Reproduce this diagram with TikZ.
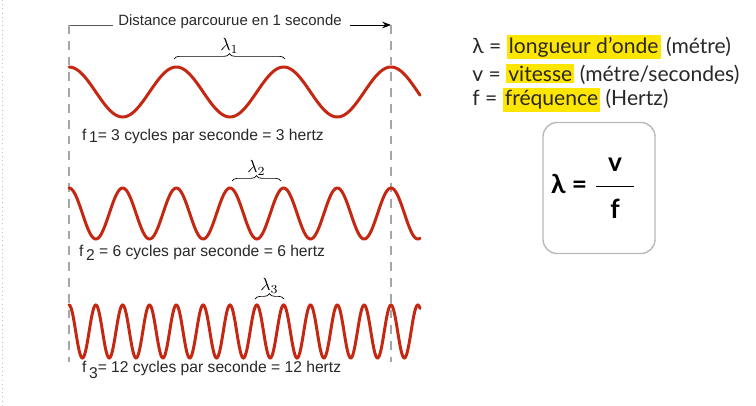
\documentclass[tikz,border=0pt]{standalone}
\usepackage{fontspec}
\setmainfont{Liberation Sans}
\newfontfamily\latofont{Lato}
\usepackage{amsmath}
\usetikzlibrary{arrows.meta,positioning,decorations.pathreplacing}
\definecolor{ondered}{RGB}{196,40,18}
\definecolor{surlignage}{RGB}{255,230,0}
\definecolor{textegris}{RGB}{40,40,40}
\newcommand{\surligne}[1]{{\setlength{\fboxsep}{1.2pt}\colorbox{surlignage}{#1}}}

\begin{document}
\begin{tikzpicture}[x=0.02cm, y=-0.02cm,
      onde/.style={ondered, line width=1.7pt, line cap=round, smooth},
      pointille/.style={gray!70, line width=0.7pt, dash pattern=on 5pt off 4pt},
      accolade/.style={decorate, decoration={brace, amplitude=3pt}, thin},
      etiquette/.style={font=\fontsize{8.9}{10}\selectfont, text=textegris, inner sep=1pt},
      legende/.style={anchor=west, font=\latofont\fontsize{12}{14}\selectfont, text=textegris, inner sep=0pt}
    ]
      \useasboundingbox (0,0) rectangle (756,405);
      \draw[gray!50, dotted] (2,0) -- (2,405);
      % distance parcourue
      \coordinate (haut-g) at (69,25);
      \coordinate (haut-d) at (391,25);
      \coordinate (bas-g) at (69,362);
      \coordinate (bas-d) at (391,362);
      \node[etiquette, font=\fontsize{8.5}{9}\selectfont] (distance) at (230,22) {Distance parcourue en 1 seconde};
      \draw[gray!70!black, thin] (haut-g) -- (113,25);
      \draw[-{Stealth[length=5pt]}, thin] (350,25) -- (haut-d);
      \draw[pointille] (haut-g) -- (bas-g);
      \draw[pointille] (haut-d) -- (bas-d);
      % les trois ondes
      \draw[onde] plot[domain=69:420, samples=200] (\x, {92 - 25*cos(3.3541*(\x-69))});
      \draw[onde] plot[domain=69:420, samples=300] (\x, {213.5 - 25.5*cos(6.7079*(\x-69))});
      \draw[onde] plot[domain=69:420, samples=500] (\x, {331.5 - 26.5*cos(13.4178*(\x-69))});
      % longueurs d'onde
      \coordinate (l1a) at (174,59); \coordinate (l1b) at (285,59);
      \coordinate (l2a) at (232,181); \coordinate (l2b) at (281,181);
      \coordinate (l3a) at (255,299); \coordinate (l3b) at (284,299);
      \draw[accolade] (l1a) -- (l1b) node[midway, above=2pt, inner sep=1pt] (lambda1) {$\lambda_1$};
      \draw[accolade] (l2a) -- (l2b) node[midway, above=2pt, inner sep=1pt] (lambda2) {$\lambda_2$};
      \draw[accolade] (l3a) -- (l3b) node[midway, above=2pt, inner sep=1pt] (lambda3) {$\lambda_3$};
      % frequences
      \node[etiquette, anchor=west] (f1) at (80,136) {f\,\raisebox{-1.5pt}{1}= 3 cycles par seconde = 3 hertz};
      \node[etiquette, anchor=west] (f2) at (77,253) {f\,\raisebox{-2pt}{2} = 6 cycles par seconde = 6 hertz};
      \node[etiquette, anchor=west] (f3) at (80,370) {f\,\raisebox{-3pt}{3}= 12 cycles par seconde = 12 hertz};
      % definitions
      \node[legende] (def-lambda) at (472,47) {λ = \surligne{longueur d’onde} (métre)};
      \node[legende] (def-v) at (472,74) {v = \surligne{vitesse} (métre/secondes)};
      \node[legende] (def-f) at (472,100) {f = \surligne{fréquence} (Hertz)};
      % formule
      \node[draw=gray!55, rounded corners=8pt, line width=0.8pt, minimum width=2.24cm, minimum height=2.62cm,
            font=\latofont\bfseries\fontsize{15}{17}\selectfont] (formule) at (599,188)
        {\hspace*{-6pt}λ = $\dfrac{\makebox[22pt]{\text{v}}\rule[-7pt]{0pt}{8pt}}{\rule{0pt}{16pt}\text{f}}$};
    \end{tikzpicture}
\end{document}
